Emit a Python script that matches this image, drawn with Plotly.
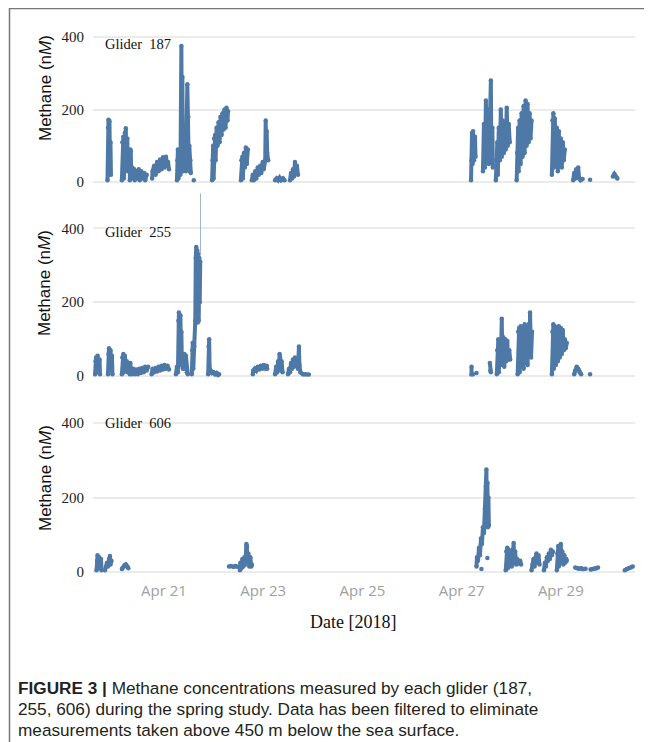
import plotly.graph_objects as go
import pandas as pd

# ---------------- data (day of April 2018, methane nM); None = gap ----------------
g187_day = [19.86, 19.87, 19.88, 19.89, 19.90, 19.91, 19.92, 19.93, None,
            20.15, 20.16, 20.18, 20.19, 20.21, 20.23, 20.24, 20.26, 20.27, None,
            20.31, 20.32, 20.33, 20.34, 20.36, 20.38, 20.40, 20.41, 20.44, 20.46, 20.49, 20.51, 20.54, 20.57, 20.60, 20.62, 20.65, None,
            20.76, 20.77, 20.80, 20.83, 20.86, 20.89, 20.92, 20.95, 20.98, 21.01, 21.04, 21.06, 21.08, 21.10, None,
            21.26, 21.27, 21.28, 21.29, 21.30, 21.31, 21.32, 21.33, 21.35, 21.36, 21.37, 21.38, 21.39, 21.40, 21.42, 21.44, 21.47, 21.48, 21.49, 21.50, 21.51, 21.52, 21.53, 21.54, None,
            21.60, None,
            21.97, 21.98, 21.99, 22.00, 22.01, 22.03, 22.04, 22.06, 22.08, 22.10, 22.12, 22.14, 22.16, 22.18, 22.20, 22.22, 22.24, 22.26, 22.28, 22.29, None,
            22.55, 22.56, 22.58, 22.59, 22.61, 22.63, 22.65, 22.67, 22.69, None,
            22.77, 22.79, 22.81, 22.84, 22.86, 22.89, 22.91, 22.94, 22.96, 22.99, 23.01, 23.04, 23.05, 23.06, 23.07, 23.08, 23.10, None,
            23.24, 23.27, 23.30, 23.33, 23.36, 23.40, 23.43, None,
            23.54, 23.56, 23.58, 23.60, 23.62, 23.64, 23.66, 23.68, 23.70, None,
            27.19, 27.20, 27.21, 27.22, 27.23, 27.25, 27.27, 27.28, None,
            27.43, 27.45, 27.47, 27.49, 27.51, 27.53, 27.55, 27.57, 27.59, 27.60, 27.62, 27.63, None,
            27.69, 27.70, 27.72, 27.73, 27.75, 27.77, 27.79, 27.81, 27.83, 27.85, 27.87, 27.89, 27.91, 27.93, 27.95, 27.97, None,
            28.11, 28.12, 28.14, 28.15, 28.17, 28.19, 28.21, 28.23, 28.25, 28.27, 28.29, 28.31, 28.33, 28.35, 28.37, 28.39, 28.41, None,
            28.82, 28.83, 28.85, 28.86, 28.88, 28.90, 28.92, 28.94, 28.96, 28.98, 29.00, 29.02, 29.04, 29.06, 29.08, None,
            29.25, 29.27, 29.29, 29.31, 29.33, 29.35, 29.37, 29.40, 29.44, None,
            29.59, None,
            30.05, 30.08, 30.11, 30.14]
g187_nM = [5, 150, 172, 20, 168, 60, 110, 20, None,
           5, 110, 125, 10, 135, 148, 40, 120, 30, None,
           5, 90, 85, 10, 40, 20, 35, 5, 30, 10, 35, 5, 30, 10, 25, 5, 20, None,
           10, 30, 45, 20, 55, 30, 62, 35, 68, 40, 70, 45, 55, 35, None,
           5, 60, 90, 10, 75, 30, 85, 20, 375, 60, 290, 30, 130, 50, 90, 30, 270, 80, 180, 40, 100, 30, 60, 25, None,
           5, None,
           5, 60, 100, 10, 120, 130, 60, 150, 100, 165, 110, 180, 130, 190, 145, 200, 150, 205, 170, 195, None,
           5, 60, 70, 10, 80, 40, 95, 50, 90, None,
           5, 20, 5, 30, 10, 40, 20, 45, 25, 55, 35, 60, 170, 60, 140, 80, 60, None,
           5, 10, 5, 12, 5, 10, 5, None,
           5, 25, 10, 35, 15, 55, 25, 45, 20, None,
           5, 60, 135, 50, 140, 60, 125, 70, None,
           30, 160, 40, 225, 60, 200, 50, 170, 280, 60, 150, 40, None,
           5, 60, 110, 20, 150, 60, 200, 70, 170, 80, 150, 90, 205, 100, 160, 110, None,
           5, 80, 150, 30, 170, 50, 190, 70, 210, 80, 225, 100, 215, 110, 190, 120, 170, None,
           20, 170, 190, 40, 175, 60, 150, 30, 140, 60, 120, 40, 110, 60, 90, None,
           5, 25, 10, 35, 15, 40, 10, 5, 8, None,
           6, None,
           15, 22, 15, 10]

g255_day = [19.61, 19.62, 19.63, 19.64, 19.66, 19.68, 19.70, 19.71, None,
            19.87, 19.88, 19.89, 19.90, 19.92, 19.94, 19.95, 19.96, None,
            20.15, 20.16, 20.18, 20.19, 20.21, 20.23, 20.25, 20.27, None,
            20.31, 20.32, 20.33, 20.35, 20.38, 20.41, 20.44, 20.47, 20.50, 20.53, 20.56, 20.59, 20.62, 20.65, 20.68, None,
            20.75, 20.77, 20.80, 20.83, 20.86, 20.89, 20.92, 20.95, 20.98, 21.01, 21.04, 21.07, 21.10, None,
            21.24, 21.26, 21.28, 21.29, 21.30, 21.31, 21.33, 21.34, 21.35, 21.36, 21.38, 21.41, 21.42, 21.44, 21.46, 21.48, None,
            21.56, 21.57, 21.58, 21.59, 21.61, 21.63, 21.64, 21.65, 21.66, 21.67, 21.68, 21.69, 21.70, 21.71, 21.72, 21.73, None,
            21.89, 21.90, 21.91, 21.92, 21.94, 21.97, 22.00, 22.03, 22.06, 22.09, 22.11, None,
            22.79, 22.80, 22.83, 22.86, 22.89, 22.92, 22.95, 22.98, 23.01, 23.04, 23.07, 23.08, None,
            23.24, 23.26, 23.28, 23.30, 23.32, 23.33, 23.34, 23.35, 23.37, 23.39, None,
            23.50, 23.52, 23.54, 23.56, 23.58, 23.60, 23.62, 23.64, 23.66, 23.68, 23.70, 23.72, 23.73, 23.75, 23.80, 23.85, 23.92, None,
            27.20, 27.20, 27.23, None,
            27.30, None,
            27.57, 27.58, 27.59, None,
            27.71, 27.72, 27.74, 27.75, 27.77, 27.79, 27.81, 27.82, 27.84, 27.86, 27.88, 27.90, 27.92, 27.94, 27.96, 27.98, None,
            28.13, 28.14, 28.16, 28.17, 28.19, 28.21, 28.23, 28.25, 28.27, 28.29, 28.31, 28.33, 28.35, 28.37, 28.38, 28.40, 28.42, None,
            28.82, 28.83, 28.85, 28.86, 28.88, 28.90, 28.92, 28.94, 28.96, 28.98, 29.00, 29.02, 29.04, 29.06, 29.08, 29.10, 29.12, None,
            29.27, 29.29, 29.32, 29.35, 29.38, 29.41, None,
            29.59]
g255_nM = [5, 40, 50, 10, 55, 20, 45, 5, None,
           5, 60, 75, 15, 70, 30, 55, 5, None,
           5, 50, 60, 10, 55, 30, 40, 10, None,
           5, 35, 20, 5, 20, 5, 18, 5, 20, 8, 22, 10, 25, 15, 25, None,
           5, 20, 10, 22, 12, 25, 15, 28, 18, 30, 20, 28, 18, None,
           5, 25, 10, 150, 172, 30, 165, 80, 120, 30, 20, 60, 20, 55, 10, 5, None,
           5, 70, 90, 20, 80, 150, 320, 350, 160, 340, 145, 330, 150, 320, 200, 310, None,
           5, 80, 100, 20, 15, 8, 10, 5, 8, 3, 5, None,
           5, 15, 20, 15, 25, 18, 28, 20, 30, 22, 28, 20, None,
           5, 25, 10, 40, 20, 60, 50, 15, 40, 10, None,
           5, 20, 10, 35, 20, 45, 25, 50, 30, 45, 20, 80, 30, 10, 5, 5, 4, None,
           25, 5, 5, None,
           8, None,
           35, 15, 10, None,
           5, 70, 100, 10, 95, 30, 155, 40, 105, 25, 100, 40, 95, 45, 70, 45, None,
           5, 120, 130, 10, 135, 30, 130, 20, 140, 40, 135, 30, 140, 60, 172, 50, 120, None,
           5, 120, 140, 20, 135, 30, 130, 40, 135, 50, 130, 60, 125, 70, 100, 75, 90, None,
           5, 15, 25, 20, 10, 5, None,
           5]

# thin spike in glider 255 record
g255_spike_day = [21.735, 21.735]
g255_spike_nM = [330, 495]

g606_day = [19.64, 19.65, 19.66, 19.67, 19.69, 19.71, 19.73, 19.74, None,
            19.81, 19.83, 19.85, 19.87, 19.89, 19.91, 19.92, 19.94, None,
            20.15, 20.17, 20.20, 20.23, 20.26, 20.28, None,
            22.31, 22.35, 22.40, 22.44, 22.48, None,
            22.53, 22.54, 22.56, 22.58, 22.60, 22.62, 22.64, 22.66, 22.67, 22.68, 22.70, 22.72, 22.74, 22.76, 22.77, None,
            27.30, 27.31, 27.33, 27.35, 27.37, 27.39, 27.41, 27.43, 27.45, 27.47, 27.48, 27.49, 27.50, 27.51, 27.52, 27.53, 27.54, 27.55, None,
            27.40, None,
            27.52, None,
            27.89, 27.90, 27.92, 27.93, 27.95, 27.97, 27.99, 28.01, 28.03, 28.05, 28.06, 28.08, 28.10, 28.12, 28.15, 28.18, 28.20, None,
            28.41, 28.43, 28.45, 28.47, 28.49, 28.51, 28.53, 28.55, 28.57, None,
            28.66, 28.68, 28.70, 28.72, 28.74, 28.76, 28.78, 28.80, 28.82, 28.84, None,
            28.92, 28.93, 28.95, 28.96, 28.98, 29.00, 29.01, 29.03, 29.05, 29.07, 29.09, 29.11, 29.12, None,
            29.29, 29.33, 29.37, 29.41, 29.45, 29.50, None,
            29.60, 29.64, 29.68, 29.72, 29.75, None,
            30.29, 30.33, 30.37, 30.41, 30.45]
g606_nM = [5, 30, 45, 10, 40, 20, 35, 5, None,
           5, 15, 25, 15, 35, 43, 20, 30, None,
           8, 12, 18, 20, 15, 10, None,
           15, 16, 14, 16, 14, None,
           5, 25, 10, 35, 15, 40, 20, 75, 70, 30, 50, 15, 40, 15, 20, None,
           15, 40, 30, 65, 45, 90, 75, 120, 105, 170, 150, 230, 275, 140, 240, 120, 200, 125, None,
           8, None,
           38, None,
           5, 55, 65, 10, 60, 20, 45, 15, 60, 78, 25, 55, 20, 35, 25, 30, 20, None,
           5, 20, 35, 15, 40, 50, 25, 45, 20, None,
           5, 25, 15, 40, 30, 50, 35, 60, 45, 55, None,
           5, 50, 70, 15, 60, 75, 30, 55, 20, 45, 25, 35, 30, None,
           12, 10, 9, 10, 8, 9, None,
           7, 8, 9, 10, 12, None,
           5, 8, 10, 12, 15]

glider_names = ["Glider\u00a0 187", "Glider\u00a0 255", "Glider\u00a0 606"]
y_ticks = [0, 200, 400]
x_tick_days = [21, 23, 25, 27, 29]
x_tick_labels = ["Apr 21", "Apr 23", "Apr 25", "Apr 27", "Apr 29"]

for a, b in [(g187_day, g187_nM), (g255_day, g255_nM), (g606_day, g606_nM)]:
    assert len(a) == len(b)

BASE = pd.Timestamp("2018-04-01")


def to_dt(days):
    return [None if d is None else BASE + pd.to_timedelta(d - 1, unit="D") for d in days]


# page has an 8 px body margin; figure fills the rest of the window
OFF = 8
W, H = 652 - OFF, 742 - OFF
BLUE = "#4e79a7"


def px_x(p):
    return (p - OFF) / W


def px_y(p):
    return 1 - (p - OFF) / H


fig = go.Figure()
series = [(g187_day, g187_nM, "x", "y"), (g255_day, g255_nM, "x2", "y2"), (g606_day, g606_nM, "x3", "y3")]
for days, vals, xa, ya in series:
    fig.add_trace(go.Scatter(x=to_dt(days), y=vals, mode="lines+markers",
                             line=dict(color=BLUE, width=4), marker=dict(color=BLUE, size=4.5),
                             connectgaps=False, xaxis=xa, yaxis=ya, showlegend=False, hoverinfo="skip"))
fig.add_trace(go.Scatter(x=to_dt(g255_spike_day), y=g255_spike_nM, mode="lines",
                         line=dict(color="#9db3cf", width=1), xaxis="x2", yaxis="y2",
                         showlegend=False, hoverinfo="skip"))

x_range = to_dt([19.568, 30.496])
# panel pixel extents (top, bottom) in page pixels and y ranges
panels = [(8.0, 189.25, [-20, 480]), (189.7, 383.4, [-20, 505]), (383.9, 579.5, [-20, 505])]

layout = dict(width=W, height=H, margin=dict(l=0, r=0, t=0, b=0),
              paper_bgcolor="white", plot_bgcolor="white", showlegend=False)
xdom = [px_x(93), px_x(635)]
for i, (top, bot, yr) in enumerate(panels):
    sfx = "" if i == 0 else str(i + 1)
    xa = dict(domain=xdom, range=x_range, showgrid=False, zeroline=False, showline=False,
              ticks="", anchor="y" + sfx)
    if i < 2:
        xa.update(showticklabels=False, matches="x3")
    else:
        xa.update(tickvals=to_dt(x_tick_days), ticktext=x_tick_labels,
                  tickfont=dict(family="Open Sans, Lato, sans-serif", size=15, color="#a0a0a0"))
    ya = dict(domain=[px_y(bot), min(1.0, px_y(top))], range=yr, tickvals=y_ticks,
              ticktext=[str(v) for v in y_ticks], showgrid=True, gridcolor="#ebebeb", gridwidth=1.5,
              zeroline=False, showline=False, ticks="", ticklabelstandoff=8,
              tickfont=dict(family="Liberation Serif, Times New Roman, serif", size=15, color="#222"),
              anchor="x" + sfx)
    layout["xaxis" + sfx] = xa
    layout["yaxis" + sfx] = ya
fig.update_layout(**layout)

ann = []
title_y = [88, 283, 478]
label_y = [44, 232, 423]
for i in range(3):
    ann.append(dict(text="Methane (n<i>M</i>)", x=px_x(45), y=px_y(title_y[i]), xref="paper", yref="paper",
                    textangle=-90, showarrow=False, xanchor="center", yanchor="middle",
                    font=dict(family="Liberation Sans, Arial, sans-serif", size=17, color="#111")))
    ann.append(dict(text=glider_names[i], x=px_x(103), y=px_y(label_y[i]), xref="paper", yref="paper",
                    showarrow=False, xanchor="left", yanchor="middle",
                    font=dict(family="Liberation Serif, Times New Roman, serif", size=14.5, color="#111")))
ann.append(dict(text="Date [2018]", x=px_x(353), y=px_y(622), xref="paper", yref="paper", showarrow=False,
                xanchor="center", yanchor="middle",
                font=dict(family="Liberation Serif, Times New Roman, serif", size=18, color="#111")))
caption = ["<b>FIGURE 3 |</b> Methane concentrations measured by each glider (187,",
           "255, 606) during the spring study. Data has been filtered to eliminate",
           "measurements taken above 450 m below the sea surface."]
for txt, yy in zip(caption, [688, 709, 730]):
    ann.append(dict(text=txt, x=px_x(16), y=px_y(yy), xref="paper", yref="paper", showarrow=False,
                    xanchor="left", yanchor="middle",
                    font=dict(family="Liberation Sans, Arial, sans-serif", size=17.2, color="#231f20")))
fig.update_layout(annotations=ann)

# figure frame (top and left rules)
fig.add_shape(type="line", xref="paper", yref="paper", x0=px_x(9), x1=1, y0=px_y(8.5), y1=px_y(8.5),
              line=dict(color="#777", width=1.5))
fig.add_shape(type="line", xref="paper", yref="paper", x0=px_x(9.5), x1=px_x(9.5), y0=px_y(8), y1=0,
              line=dict(color="#777", width=1.5))

fig.write_html("out.html")
